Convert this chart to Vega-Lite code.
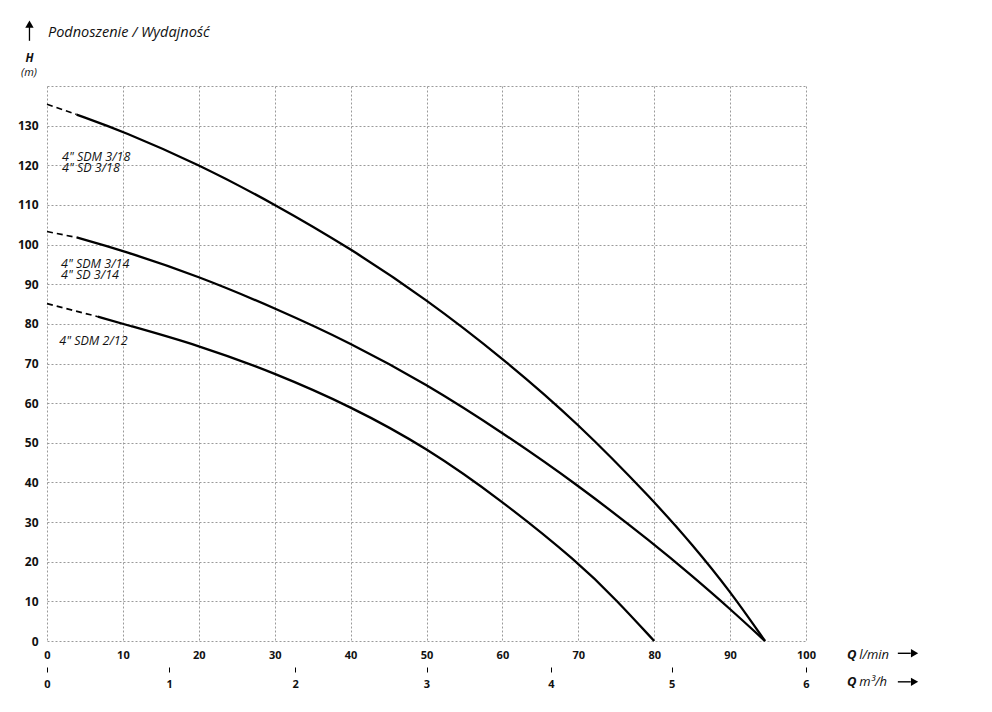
{
  "$schema": "https://vega.github.io/schema/vega-lite/v6.json",
  "width": 759,
  "height": 555,
  "autosize": {"type": "none"},
  "padding": {"left": 47, "top": 86, "right": 186, "bottom": 71},
  "background": "white",
  "config": {"view": {"stroke": null}, "font": "Open Sans"},
  "datasets": {
    "curves": [
      {"model": "3/18", "part": "dashed", "q": 0, "h": 135.4},
      {"model": "3/18", "part": "dashed", "q": 3.9, "h": 132.8},
      {"model": "3/18", "part": "solid", "q": 3.9, "h": 132.8},
      {"model": "3/18", "part": "solid", "q": 10, "h": 128.6},
      {"model": "3/18", "part": "solid", "q": 20, "h": 120.2},
      {"model": "3/18", "part": "solid", "q": 30, "h": 110.2},
      {"model": "3/18", "part": "solid", "q": 40, "h": 99},
      {"model": "3/18", "part": "solid", "q": 50, "h": 86.2},
      {"model": "3/18", "part": "solid", "q": 60, "h": 71.4},
      {"model": "3/18", "part": "solid", "q": 70, "h": 54.9},
      {"model": "3/18", "part": "solid", "q": 80, "h": 35.2},
      {"model": "3/18", "part": "solid", "q": 85, "h": 24.4},
      {"model": "3/18", "part": "solid", "q": 90, "h": 12.6},
      {"model": "3/18", "part": "solid", "q": 94.6, "h": 0},
      {"model": "3/14", "part": "dashed", "q": 0, "h": 103.3},
      {"model": "3/14", "part": "dashed", "q": 3.9, "h": 101.8},
      {"model": "3/14", "part": "solid", "q": 3.9, "h": 101.8},
      {"model": "3/14", "part": "solid", "q": 10, "h": 98.5},
      {"model": "3/14", "part": "solid", "q": 20, "h": 92},
      {"model": "3/14", "part": "solid", "q": 30, "h": 84},
      {"model": "3/14", "part": "solid", "q": 40, "h": 75.2},
      {"model": "3/14", "part": "solid", "q": 50, "h": 64.8},
      {"model": "3/14", "part": "solid", "q": 60, "h": 52.6},
      {"model": "3/14", "part": "solid", "q": 70, "h": 39.3},
      {"model": "3/14", "part": "solid", "q": 80, "h": 24.4},
      {"model": "3/14", "part": "solid", "q": 85, "h": 16.4},
      {"model": "3/14", "part": "solid", "q": 90, "h": 8.1},
      {"model": "3/14", "part": "solid", "q": 94.6, "h": 0},
      {"model": "2/12", "part": "dashed", "q": 0, "h": 85.1},
      {"model": "2/12", "part": "dashed", "q": 6.7, "h": 81.8},
      {"model": "2/12", "part": "solid", "q": 6.7, "h": 81.8},
      {"model": "2/12", "part": "solid", "q": 10, "h": 80.0},
      {"model": "2/12", "part": "solid", "q": 20, "h": 74.6},
      {"model": "2/12", "part": "solid", "q": 30, "h": 67.6},
      {"model": "2/12", "part": "solid", "q": 40, "h": 59.2},
      {"model": "2/12", "part": "solid", "q": 50, "h": 48.8},
      {"model": "2/12", "part": "solid", "q": 60, "h": 35.3},
      {"model": "2/12", "part": "solid", "q": 70, "h": 19.8},
      {"model": "2/12", "part": "solid", "q": 75, "h": 10.4},
      {"model": "2/12", "part": "solid", "q": 80, "h": 0}
    ]
  },
  "layer": [
    {
      "data": {"name": "curves"},
      "transform": [{"filter": "datum.part == 'solid'"}],
      "mark": {"type": "line", "interpolate": "basis", "color": "black", "strokeWidth": 2.3},
      "encoding": {
        "x": {
          "field": "q", "type": "quantitative",
          "scale": {"domain": [0, 100], "nice": false, "zero": false},
          "axis": {
            "orient": "bottom", "title": null,
            "values": [0, 10, 20, 30, 40, 50, 60, 70, 80, 90, 100],
            "grid": true, "gridColor": "#9a9a9a", "gridDash": [2, 2], "gridWidth": 1,
            "domain": false, "ticks": false, "labelPadding": 8,
            "labelFontWeight": "bold", "labelFontSize": 11, "labelColor": "#111",
            "labelFlush": false, "labelOverlap": false
          }
        },
        "y": {
          "field": "h", "type": "quantitative",
          "scale": {"domain": [0, 140], "nice": false},
          "axis": {
            "orient": "left", "title": null,
            "values": [0, 10, 20, 30, 40, 50, 60, 70, 80, 90, 100, 110, 120, 130, 140],
            "labelExpr": "datum.value == 140 ? '' : datum.label",
            "grid": true, "gridColor": "#9a9a9a", "gridDash": [2, 2], "gridWidth": 1,
            "domain": false, "ticks": false, "labelPadding": 9,
            "labelFontWeight": "bold", "labelFontSize": 12, "labelColor": "#111",
            "labelFlush": false, "labelOverlap": false
          }
        },
        "detail": {"field": "model"}
      }
    },
    {
      "data": {"name": "curves"},
      "transform": [{"filter": "datum.part == 'dashed'"}],
      "mark": {"type": "line", "color": "black", "strokeWidth": 1.6, "strokeDash": [6, 4]},
      "encoding": {
        "x": {"field": "q", "type": "quantitative", "axis": null},
        "y": {"field": "h", "type": "quantitative", "axis": null},
        "detail": {"field": "model"}
      }
    },
    {
      "mark": {"type": "rule", "color": "black", "strokeWidth": 1.3},
      "encoding": {
        "x": {
          "datum": 0, "type": "quantitative",
          "axis": {
            "orient": "bottom", "offset": 26, "title": null,
            "values": [0, 16.1, 32.7, 50, 66.4, 82.3, 100],
            "labelExpr": "'' + round(datum.value * 0.06)",
            "grid": false, "domain": false, "ticks": true, "tickSize": 5,
            "tickColor": "black", "tickWidth": 1, "labelPadding": 6,
            "labelFontWeight": "bold", "labelFontSize": 11, "labelColor": "#111",
            "labelFlush": false, "labelOverlap": false
          }
        },
        "x2": {"datum": 115.8},
        "y": {"datum": -6.56, "type": "quantitative", "axis": null}
      }
    },
    {
      "data": {"values": [
        {"x": 1.98, "y": 122.2, "t": "4\" SDM 3/18\n4\" SD 3/18"},
        {"x": 1.85, "y": 95.1, "t": "4\" SDM 3/14\n4\" SD 3/14"},
        {"x": 1.62, "y": 75.7, "t": "4\" SDM 2/12"}
      ]},
      "mark": {"type": "text", "align": "left", "baseline": "middle", "fontSize": 12.5, "fontStyle": "italic", "color": "#111", "lineBreak": "\n", "lineHeight": 11.5},
      "encoding": {
        "x": {"field": "x", "type": "quantitative", "axis": null},
        "y": {"field": "y", "type": "quantitative", "axis": null},
        "text": {"field": "t"}
      }
    },
    {
      "data": {"values": [{"x": 0.13, "y": 153.4, "t": "Podnoszenie / Wydajność"}]},
      "mark": {"type": "text", "align": "left", "baseline": "middle", "fontSize": 14.5, "fontStyle": "italic", "color": "#111"},
      "encoding": {
        "x": {"field": "x", "type": "quantitative", "axis": null},
        "y": {"field": "y", "type": "quantitative", "axis": null},
        "text": {"field": "t"}
      }
    },
    {
      "data": {"values": [
        {"x": 107.0, "y": -3.5, "t": "l/min"},
        {"x": 107.0, "y": -10.4, "t": "m³/h"}
      ]},
      "mark": {"type": "text", "align": "left", "baseline": "middle", "fontSize": 13, "fontStyle": "italic", "color": "#111"},
      "encoding": {
        "x": {"field": "x", "type": "quantitative", "axis": null},
        "y": {"field": "y", "type": "quantitative", "axis": null},
        "text": {"field": "t"}
      }
    },
    {
      "data": {"values": [
        {"x": 105.4, "y": -3.5, "t": "Q"},
        {"x": 105.4, "y": -10.4, "t": "Q"}
      ]},
      "mark": {"type": "text", "align": "left", "baseline": "middle", "fontSize": 13, "fontStyle": "italic", "fontWeight": "bold", "color": "#111"},
      "encoding": {
        "x": {"field": "x", "type": "quantitative", "axis": null},
        "y": {"field": "y", "type": "quantitative", "axis": null},
        "text": {"field": "t"}
      }
    },
    {
      "data": {"values": [{"x": -2.31, "y": 146.7, "t": "H"}]},
      "mark": {"type": "text", "align": "center", "baseline": "middle", "fontSize": 11.5, "fontStyle": "italic", "fontWeight": "bold", "color": "#111"},
      "encoding": {
        "x": {"field": "x", "type": "quantitative", "axis": null},
        "y": {"field": "y", "type": "quantitative", "axis": null},
        "text": {"field": "t"}
      }
    },
    {
      "data": {"values": [{"x": -2.37, "y": 143.3, "t": "(m)"}]},
      "mark": {"type": "text", "align": "center", "baseline": "middle", "fontSize": 11, "fontStyle": "italic", "color": "#111"},
      "encoding": {
        "x": {"field": "x", "type": "quantitative", "axis": null},
        "y": {"field": "y", "type": "quantitative", "axis": null},
        "text": {"field": "t"}
      }
    },
    {
      "data": {"values": [{"x": -2.31, "y": 151.4, "y2": 155.0}]},
      "mark": {"type": "rule", "color": "black", "strokeWidth": 1.3},
      "encoding": {
        "x": {"field": "x", "type": "quantitative", "axis": null},
        "y": {"field": "y", "type": "quantitative", "axis": null},
        "y2": {"field": "y2"}
      }
    },
    {
      "data": {"values": [
        {"x": 112.1, "x2": 113.8, "y": -3.1},
        {"x": 112.1, "x2": 113.8, "y": -10.3}
      ]},
      "mark": {"type": "rule", "color": "black", "strokeWidth": 1.4},
      "encoding": {
        "x": {"field": "x", "type": "quantitative", "axis": null},
        "x2": {"field": "x2"},
        "y": {"field": "y", "type": "quantitative", "axis": null}
      }
    },
    {
      "data": {"values": [
        {"x": 114.3, "y": -3.1, "s": "triangle-right"},
        {"x": 114.3, "y": -10.3, "s": "triangle-right"},
        {"x": -2.31, "y": 155.6, "s": "triangle-up"}
      ]},
      "mark": {"type": "point", "filled": true, "color": "black", "opacity": 1, "size": 70},
      "encoding": {
        "x": {"field": "x", "type": "quantitative", "axis": null},
        "y": {"field": "y", "type": "quantitative", "axis": null},
        "shape": {"field": "s", "type": "nominal", "scale": null, "legend": null}
      }
    }
  ],
  "resolve": {"axis": {"x": "independent", "y": "independent"}}
}
